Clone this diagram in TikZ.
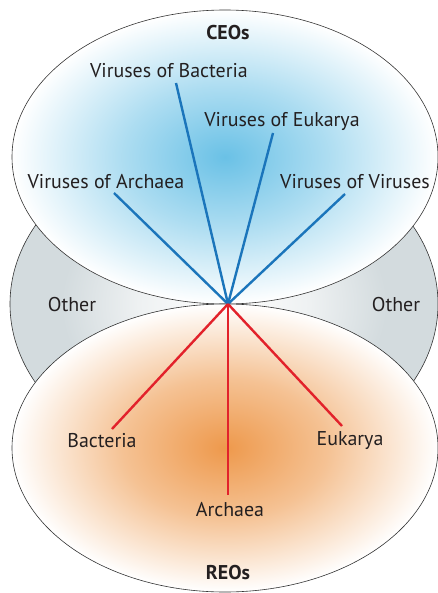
\documentclass[tikz,border=0pt]{standalone}
\usepackage{fontspec}
\setmainfont{PT Sans}
\definecolor{cblue}{HTML}{6AC1E6}
\definecolor{corange}{HTML}{EE994C}
\definecolor{cgrey}{HTML}{D3DBDE}
\definecolor{cgreyin}{HTML}{EEF1F2}
\definecolor{lblue}{HTML}{1B75BB}
\definecolor{lred}{HTML}{E2222B}
\definecolor{txt}{HTML}{231F20}
\pgfdeclareradialshading{ceoshade}{\pgfpoint{0bp}{0bp}}{color(0bp)=(cblue); color(12bp)=(cblue!55!white); color(25bp)=(white); color(50bp)=(white)}
\pgfdeclareradialshading{reoshade}{\pgfpoint{0bp}{0bp}}{color(0bp)=(corange); color(12bp)=(corange!60!white); color(25bp)=(white); color(50bp)=(white)}
\pgfdeclareradialshading{othshade}{\pgfpoint{0bp}{0bp}}{color(0bp)=(white); color(10bp)=(cgreyin); color(19bp)=(cgrey); color(50bp)=(cgrey)}
\tikzset{
  region/.style={draw=black!80, line width=0.6bp},
  lbl/.style={text=txt, font=\fontsize{20}{22}\selectfont, inner sep=0pt},
  ttl/.style={text=txt, font=\fontsize{20}{22}\selectfont\bfseries, inner sep=0pt},
  bline/.style={draw=lblue, line width=2.4bp},
  rline/.style={draw=lred, line width=2.4bp}
}
\begin{document}
\begin{tikzpicture}[x=1bp,y=-1bp]
\useasboundingbox (0,0) rectangle (438,593);
% regions
\path[region, shading=othshade] (224,304) ellipse [x radius=214, y radius=166];
\path[region, shading=ceoshade] (225,157) ellipse [x radius=213, y radius=147];
\path[region, shading=reoshade] (225,448) ellipse [x radius=213, y radius=144];
% hub
\coordinate (c) at (228,304);
% titles
\node[ttl] (ceo) at (228,33) {CEOs};
\node[ttl] (reo) at (228,573) {REOs};
% virus labels
\node[lbl] (vb) at (169,71) {Viruses of Bacteria};
\node[lbl] (ve) at (282,121) {Viruses of Eukarya};
\node[lbl] (va) at (106,182) {Viruses of Archaea};
\node[lbl] (vv) at (355,182) {Viruses of Viruses};
\node[lbl] (ol) at (72,305) {Other};
\node[lbl] (or) at (396,305) {Other};
\node[lbl] (b) at (102,441) {Bacteria};
\node[lbl] (e) at (350,441) {Eukarya};
\node[lbl] (a) at (230,510) {Archaea};
% line ends
\coordinate (vbE) at (176,83);
\coordinate (veE) at (273,133);
\coordinate (vaE) at (114,193);
\coordinate (vvE) at (345,194);
\coordinate (bE) at (112,429);
\coordinate (aE) at (228,495);
\coordinate (eE) at (342,426);
\draw[bline] (c) -- (vbE);
\draw[bline] (c) -- (veE);
\draw[bline] (c) -- (vaE);
\draw[bline] (c) -- (vvE);
\draw[rline] (c) -- (bE);
\draw[rline] (c) -- (aE);
\draw[rline] (c) -- (eE);
\end{tikzpicture}
\end{document}
